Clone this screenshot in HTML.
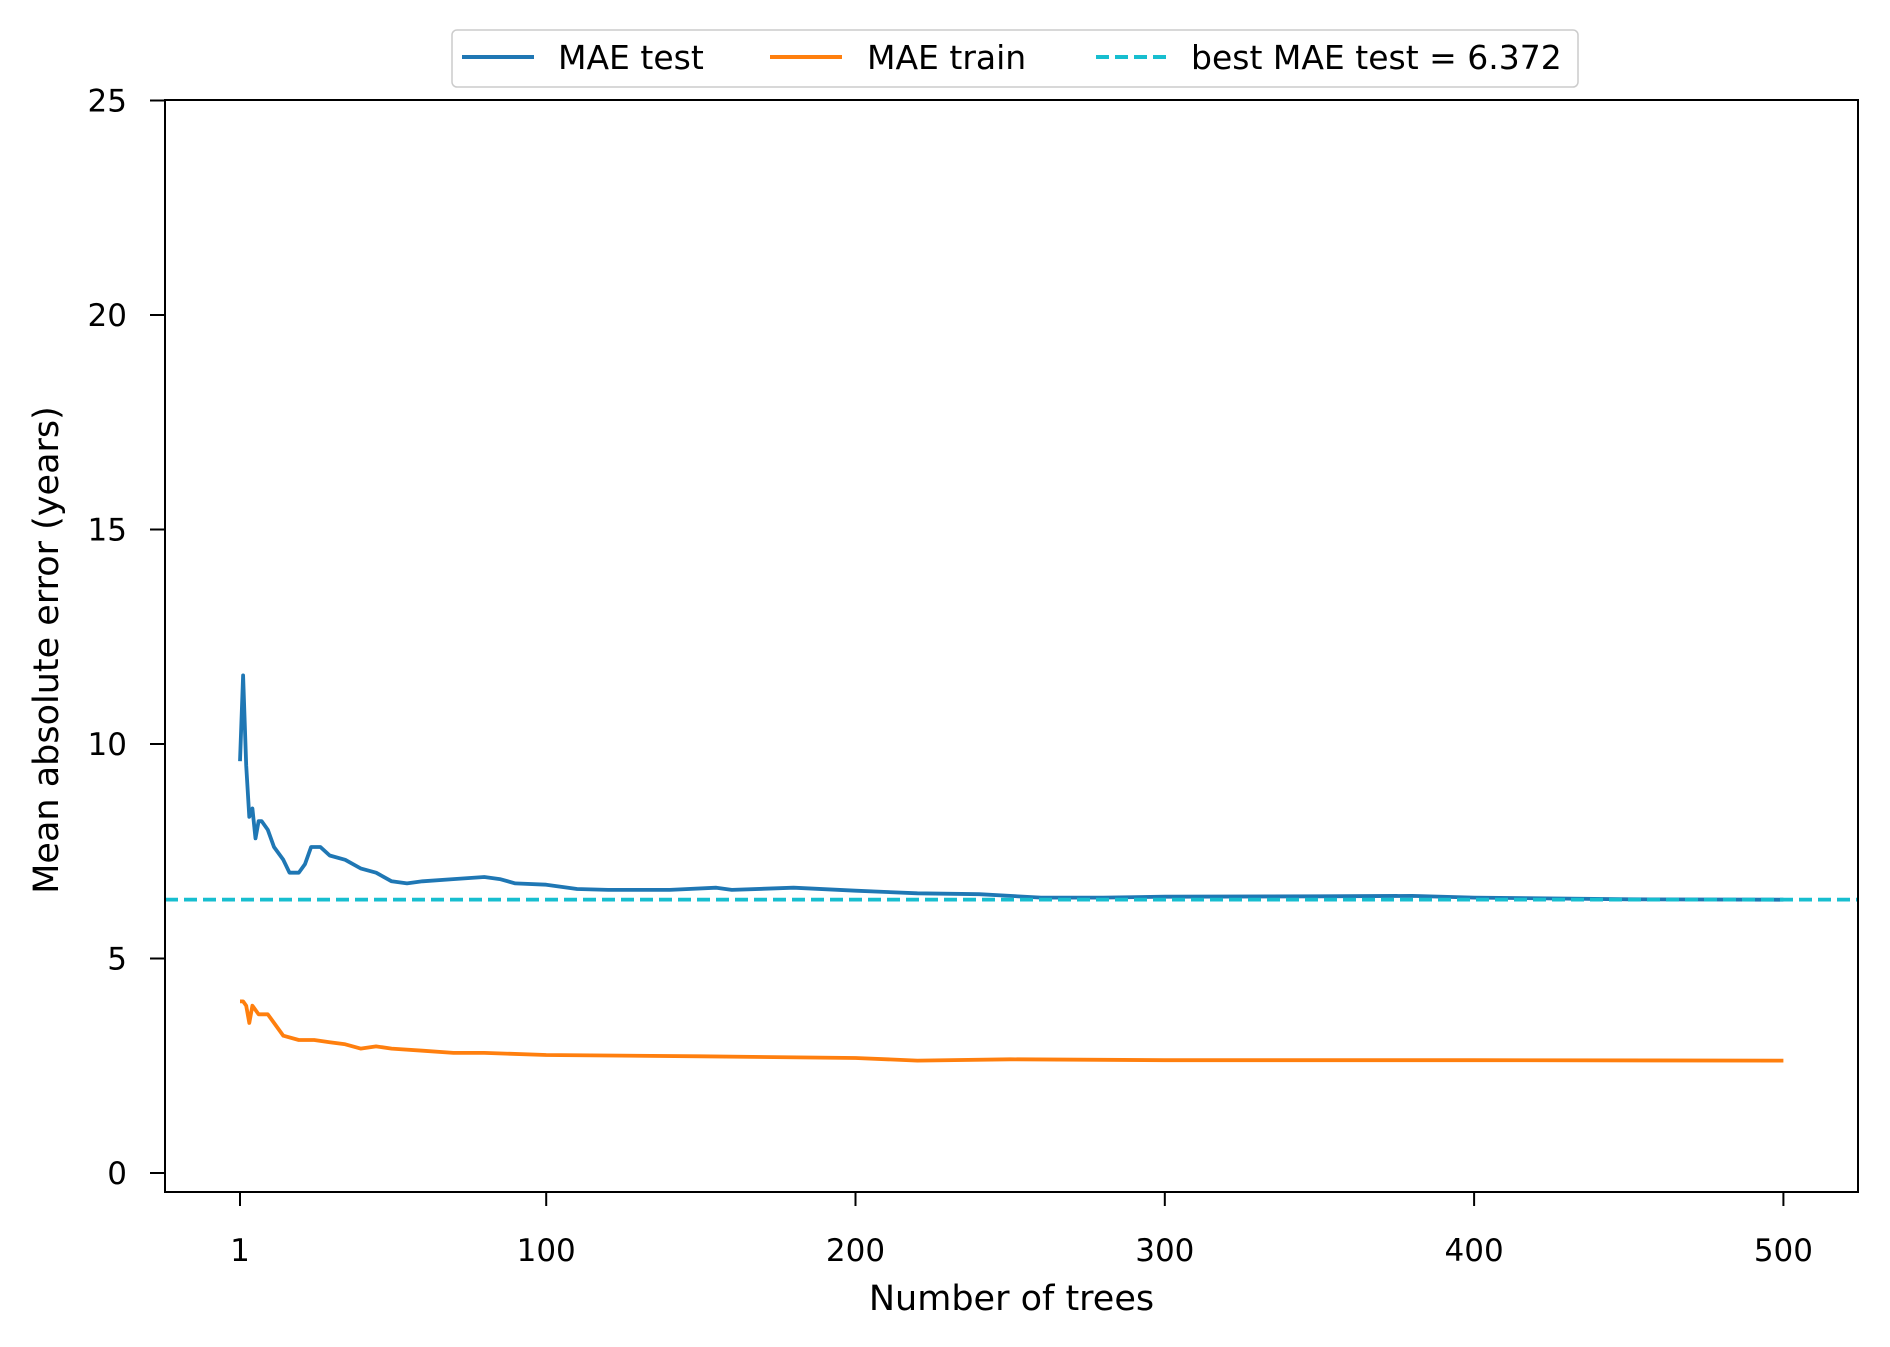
<!DOCTYPE html>
<html><head><meta charset="utf-8"><style>
html,body{margin:0;padding:0;background:#fff;}
svg{display:block;font-family:"DejaVu Sans","Liberation Sans",sans-serif;}
</style></head><body>
<svg id="chart" width="1890" height="1347" viewBox="0 0 1890 1347">
<g id="plot"></g>
</svg>
<script>
const testX = [1,2,3,4,5,6,7,8,10,12,15,17,20,22,24,27,30,35,40,45,50,55,60,70,80,85,90,100,110,120,140,155,160,180,200,220,240,260,280,300,350,380,400,450,500];
const testY = [9.6,11.6,9.5,8.3,8.5,7.8,8.2,8.2,8.0,7.6,7.3,7.0,7.0,7.2,7.6,7.6,7.4,7.3,7.1,7.0,6.8,6.75,6.8,6.85,6.9,6.85,6.75,6.72,6.62,6.6,6.6,6.65,6.6,6.65,6.58,6.52,6.5,6.42,6.42,6.44,6.45,6.46,6.42,6.38,6.37];
const trainX = [1,2,3,4,5,7,10,12,15,20,25,30,35,40,45,50,60,70,80,100,150,200,220,250,300,400,500];
const trainY = [4.0,4.0,3.9,3.5,3.9,3.7,3.7,3.5,3.2,3.1,3.1,3.05,3.0,2.9,2.95,2.9,2.85,2.8,2.8,2.75,2.72,2.68,2.62,2.65,2.63,2.63,2.62];
const bestMAE = [6.372];
const xTicks = [1,100,200,300,400,500];
const yTicks = [0,5,10,15,20,25];

const NS="http://www.w3.org/2000/svg";
const L=165,R=1858,T=100,B=1192;
const xs=v=>240+(v-1)*3.093;
const ys=v=>1173-v*42.9;
const g=document.getElementById('plot');
function el(t,a){const e=document.createElementNS(NS,t);for(const k in a)e.setAttribute(k,a[k]);g.appendChild(e);return e;}

function series(X,Y,c,name){
  const d=X.map((x,i)=>(i?'L':'M')+xs(x).toFixed(1)+','+ys(Y[i]).toFixed(1)).join(' ');
  const p=el('path',{d:d,fill:'none',stroke:c,'stroke-width':3.8,'stroke-linejoin':'round'});
  
  
}
series(trainX,trainY,'#ff7f0e','mae-train-line');
series(testX,testY,'#1f77b4','mae-test-line');
const bl=el('line',{x1:L,x2:R,y1:ys(bestMAE[0]),y2:ys(bestMAE[0]),stroke:'#17becf','stroke-width':3.8,'stroke-dasharray':'13,6'});



const fr=el('rect',{x:L,y:T,width:R-L,height:B-T,fill:'none',stroke:'#000','stroke-width':2});



xTicks.forEach(v=>{
  const tk=el('line',{x1:xs(v),x2:xs(v),y1:B,y2:B+14,stroke:'#000','stroke-width':2});
  
  
  const t=el('text',{x:xs(v),y:1261,'text-anchor':'middle','font-size':31,fill:'#000'});
  t.textContent=v;
  
  
});
yTicks.forEach(v=>{
  const tk=el('line',{x1:L-15,x2:L,y1:ys(v),y2:ys(v),stroke:'#000','stroke-width':2});
  
  
  const t=el('text',{x:L-38,y:ys(v)+11,'text-anchor':'end','font-size':31,fill:'#000'});
  t.textContent=v;
  
  
});
const xl=el('text',{x:(L+R)/2,y:1310,'text-anchor':'middle','font-size':35,fill:'#000'});
xl.textContent='Number of trees';


const yl=el('text',{x:0,y:0,'text-anchor':'middle','font-size':35,fill:'#000',transform:'translate(58,650) rotate(-90)'});
yl.textContent='Mean absolute error (years)';



const lb=el('rect',{x:452,y:30,width:1126,height:57,rx:5,fill:'#fff',stroke:'#ccc','stroke-width':1.5});


const items=[['MAE test','#1f77b4',462,558,false],['MAE train','#ff7f0e',770,867,false],['best MAE test = '+bestMAE[0],'#17becf',1096,1191,true]];
items.forEach(it=>{
  const a={x1:it[2],x2:it[2]+72,y1:57,y2:57,stroke:it[1],'stroke-width':4};
  if(it[4])a['stroke-dasharray']='13,6';
  const ln=el('line',a);
  
  
  const t=el('text',{x:it[3],y:69,'font-size':33,fill:'#000'});
  t.textContent=it[0];
  
  
});
</script>
</body></html>
